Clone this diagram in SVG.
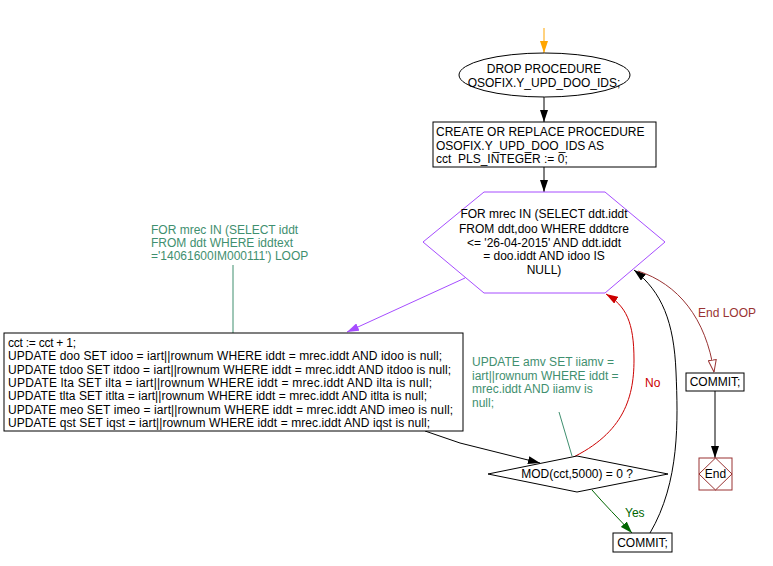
<svg xmlns="http://www.w3.org/2000/svg" width="773" height="566" viewBox="0 0 773 566">
<defs>
<style>
text{font-family:"Liberation Sans",Arial,sans-serif;font-size:12px;fill:#000}
.c{text-anchor:middle}
.ann{fill:#3f8f6f}
.box{fill:#fff;stroke:#000;stroke-width:1}
.hex{fill:#fff;stroke:#a64dff;stroke-width:1}
.ln{fill:none;stroke:#000;stroke-width:1}
</style>
<marker id="aBlk" viewBox="0 0 12 8" refX="12" refY="4" markerWidth="12" markerHeight="8" markerUnits="userSpaceOnUse" orient="auto"><path d="M0,0 L12,4 L0,8 z" fill="#000"/></marker>
<marker id="aOr" viewBox="0 0 12 8" refX="12" refY="4" markerWidth="12" markerHeight="8" markerUnits="userSpaceOnUse" orient="auto"><path d="M0,0 L12,4 L0,8 z" fill="#ffa500"/></marker>
<marker id="aPur" viewBox="0 0 12 8" refX="12" refY="4" markerWidth="12" markerHeight="8" markerUnits="userSpaceOnUse" orient="auto"><path d="M0,0 L12,4 L0,8 z" fill="#a64dff"/></marker>
<marker id="aRed" viewBox="0 0 12 8" refX="12" refY="4" markerWidth="12" markerHeight="8" markerUnits="userSpaceOnUse" orient="auto"><path d="M0,0 L12,4 L0,8 z" fill="#cc0000"/></marker>
<marker id="aGrn" viewBox="0 0 12 8" refX="12" refY="4" markerWidth="12" markerHeight="8" markerUnits="userSpaceOnUse" orient="auto"><path d="M0,0 L12,4 L0,8 z" fill="#006600"/></marker>
<marker id="aOpen" viewBox="0 0 13 9" refX="12.5" refY="4.5" markerWidth="13" markerHeight="9" markerUnits="userSpaceOnUse" orient="auto"><path d="M0.5,0.5 L12.5,4.5 L0.5,8.5 z" fill="#fff" stroke="#993333" stroke-width="1"/></marker>
</defs>
<rect width="773" height="566" fill="#fff"/>

<g id="connectors">
<path class="ln" d="M544,28 L544,53" style="stroke:#ffa500" marker-end="url(#aOr)"/>
<path class="ln" d="M544,97 L544,122" marker-end="url(#aBlk)"/>
<path class="ln" d="M544,167 L544,192" marker-end="url(#aBlk)"/>
<path class="ln" d="M465,278 L347,332" style="stroke:#a64dff" marker-end="url(#aPur)"/>
<path class="ln" d="M425,431 L460,443 L540,463" marker-end="url(#aBlk)"/>
<path class="ln" d="M565,461 C622,436 634,400 634,360 C634,322 626,306 606,294" style="stroke:#cc0000" marker-end="url(#aRed)"/>
<path class="ln" d="M650,533 C680,482 678,420 676,372 C674,322 662,292 634,270" marker-end="url(#aBlk)"/>
<path class="ln" d="M592,490 C605,505 618,518 632,533" style="stroke:#006600" marker-end="url(#aGrn)"/>
<path class="ln" d="M638,271 C678,284 706,318 714,372" style="stroke:#993333" marker-end="url(#aOpen)"/>
<path class="ln" d="M715,391 L715,458" marker-end="url(#aBlk)"/>
<path class="ln" d="M233,265 L233,333" style="stroke:#3f8f6f"/>
<path class="ln" d="M559,412 L572,456" style="stroke:#3f8f6f"/>
<text x="645" y="387" style="fill:#cc0000">No</text>
<text x="625" y="517" style="fill:#006600">Yes</text>
<text x="698" y="317" style="fill:#993333">End LOOP</text>
</g>

<g id="start">
<ellipse class="box" cx="544.5" cy="75" rx="85.5" ry="22"/>
<text class="c" x="544" y="73">DROP PROCEDURE</text>
<text class="c" x="544" y="87">OSOFIX.Y_UPD_DOO_IDS;</text>
</g>

<g id="create">
<rect class="box" x="433" y="122" width="223" height="45"/>
<text x="436" y="136">CREATE OR REPLACE PROCEDURE</text>
<text x="436" y="150">OSOFIX.Y_UPD_DOO_IDS AS</text>
<text x="436" y="163" xml:space="preserve">cct  PLS_INTEGER := 0;</text>
</g>

<g id="loop">
<polygon class="hex" points="484,192 605,192 665,242 605,293 484,293 423,242"/>
<text class="c" x="544" y="218">FOR mrec IN (SELECT ddt.iddt</text>
<text class="c" x="544" y="233">FROM ddt,doo WHERE dddtcre</text>
<text class="c" x="544" y="247">&lt;= '26-04-2015' AND ddt.iddt</text>
<text class="c" x="544" y="260">= doo.iddt AND idoo IS</text>
<text class="c" x="544" y="274">NULL)</text>
</g>

<g id="note1">
<text class="ann" x="151" y="234">FOR mrec IN (SELECT iddt</text>
<text class="ann" x="151" y="247">FROM ddt WHERE iddtext</text>
<text class="ann" x="151" y="260">='14061600IM000111') LOOP</text>
</g>

<g id="updates">
<rect class="box" x="4" y="333" width="459" height="98"/>
<text x="8" y="347" textLength="68" lengthAdjust="spacing">cct := cct + 1;</text>
<text x="8" y="360" textLength="434" lengthAdjust="spacing">UPDATE doo SET idoo = iart||rownum WHERE iddt = mrec.iddt AND idoo is null;</text>
<text x="8" y="374" textLength="443" lengthAdjust="spacing">UPDATE tdoo SET itdoo = iart||rownum WHERE iddt = mrec.iddt AND itdoo is null;</text>
<text x="8" y="387" textLength="424" lengthAdjust="spacing">UPDATE lta SET ilta = iart||rownum WHERE iddt = mrec.iddt AND ilta is null;</text>
<text x="8" y="400" textLength="419" lengthAdjust="spacing">UPDATE tlta SET itlta = iart||rownum WHERE iddt = mrec.iddt AND itlta is null;</text>
<text x="8" y="414" textLength="445" lengthAdjust="spacing">UPDATE meo SET imeo = iart||rownum WHERE iddt = mrec.iddt AND imeo is null;</text>
<text x="8" y="427" textLength="422" lengthAdjust="spacing">UPDATE qst SET iqst = iart||rownum WHERE iddt = mrec.iddt AND iqst is null;</text>
</g>

<g id="note2">
<text class="ann" x="472" y="366">UPDATE amv SET iiamv =</text>
<text class="ann" x="472" y="380">iart||rownum WHERE iddt =</text>
<text class="ann" x="472" y="393">mrec.iddt AND iiamv is</text>
<text class="ann" x="472" y="407">null;</text>
</g>

<g id="decision">
<polygon class="box" points="488,474 577,456 668,474 577,492"/>
<text class="c" x="577" y="478">MOD(cct,5000) = 0 ?</text>
</g>

<g id="commit1">
<rect class="box" x="613" y="533" width="59" height="19"/>
<text class="c" x="642.5" y="547">COMMIT;</text>
</g>

<g id="commit2">
<rect class="box" x="686" y="373" width="58" height="18"/>
<text class="c" x="715" y="386">COMMIT;</text>
</g>

<g id="end">
<rect x="699" y="458" width="33" height="32" fill="#fff" stroke="#993333" stroke-width="1"/>
<polygon points="715.5,458 732,474 715.5,490 699,474" fill="none" stroke="#993333" stroke-width="1"/>
<text class="c" x="715.5" y="478">End</text>
</g>
</svg>
